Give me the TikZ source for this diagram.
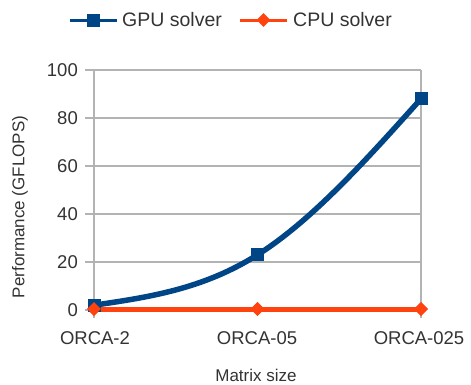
\documentclass[tikz,border=0pt]{standalone}
\usepackage{fontspec}
\setmainfont{Liberation Sans}
\usetikzlibrary{shapes.geometric}
\definecolor{gpublue}{HTML}{004586}
\definecolor{cpuorange}{HTML}{FF420E}
\definecolor{gridgray}{HTML}{B3B3B3}
\definecolor{labelgray}{HTML}{333333}
\begin{document}
\begin{tikzpicture}[x=1pt,y=-1pt,
  gridline/.style={draw=gridgray,line width=1.2pt},
  gpuline/.style={draw=gpublue,line width=5.5pt},
  cpuline/.style={draw=cpuorange,line width=5pt},
  gpumark/.style={rectangle,fill=gpublue,minimum size=13pt,inner sep=0pt},
  cpumark/.style={diamond,fill=cpuorange,minimum size=14pt,inner sep=0pt},
  ticklabel/.style={font=\fontsize{18.5}{20}\selectfont,text=labelgray,inner sep=0pt},
  axistitle/.style={font=\fontsize{17}{19}\selectfont,text=labelgray,inner sep=0pt},
  legendtext/.style={font=\fontsize{19.5}{21}\selectfont,text=labelgray,inner sep=0pt,anchor=west}
]
\useasboundingbox (0,0) rectangle (471,384);

% horizontal grid lines with ticks, 0 .. 100
\foreach \v in {0,20,...,100}{
  \draw[gridline] (85,{310-2.4*\v}) -- (421,{310-2.4*\v});
  \node[ticklabel,anchor=east] (y\v) at (78,{310-2.4*\v}) {\v};
}
% plot frame sides
\draw[gridline] (94,70) -- (94,318);
\draw[gridline] (421,70) -- (421,318);

% x tick labels
\node[ticklabel] (xl1) at (95,338) {ORCA-2};
\node[ticklabel] (xl2) at (257,338) {ORCA-05};
\node[ticklabel] (xl3) at (419,338) {ORCA-025};

% axis titles
\node[axistitle] (xt) at (256,375) {Matrix size};
\node[axistitle,rotate=90] (yt) at (20,207) {Performance (GFLOPS)};

% CPU solver series
\node[cpumark] (cpu1) at (94,309) {};
\node[cpumark] (cpu2) at (257.5,309) {};
\node[cpumark] (cpu3) at (421,309) {};
\draw[cpuline] (cpu1.center) -- (cpu2.center) -- (cpu3.center);
\node[cpumark] at (cpu2) {};
\node[cpumark] at (cpu3) {};

% GPU solver series: natural cubic spline through 2, 23, 88
\node[gpumark] (gpu1) at (94,305.2) {};
\node[gpumark] (gpu2) at (257.5,254.8) {};
\node[gpumark] (gpu3) at (421,98.8) {};
\draw[gpuline] (gpu1.center)
  .. controls (148.5,297.2) and (203,289.2) .. (gpu2.center)
  .. controls (312,220.4) and (366.5,159.6) .. (gpu3.center);
\node[gpumark] at (gpu1) {};
\node[gpumark] at (gpu2) {};
\node[gpumark] at (gpu3) {};
\node[cpumark] at (cpu1) {};

% legend
\coordinate (la) at (70,20);
\coordinate (lb) at (117,20);
\draw[draw=gpublue,line width=3pt] (la) -- (lb);
\node[gpumark] (lgm) at (93.5,20) {};
\node[legendtext] (lgt) at (122,20) {GPU solver};
\coordinate (lc) at (240,20);
\coordinate (ld) at (287,20);
\draw[draw=cpuorange,line width=3pt] (lc) -- (ld);
\node[cpumark] (lcm) at (263.5,20) {};
\node[legendtext] (lct) at (293,20) {CPU solver};
\end{tikzpicture}
\end{document}
